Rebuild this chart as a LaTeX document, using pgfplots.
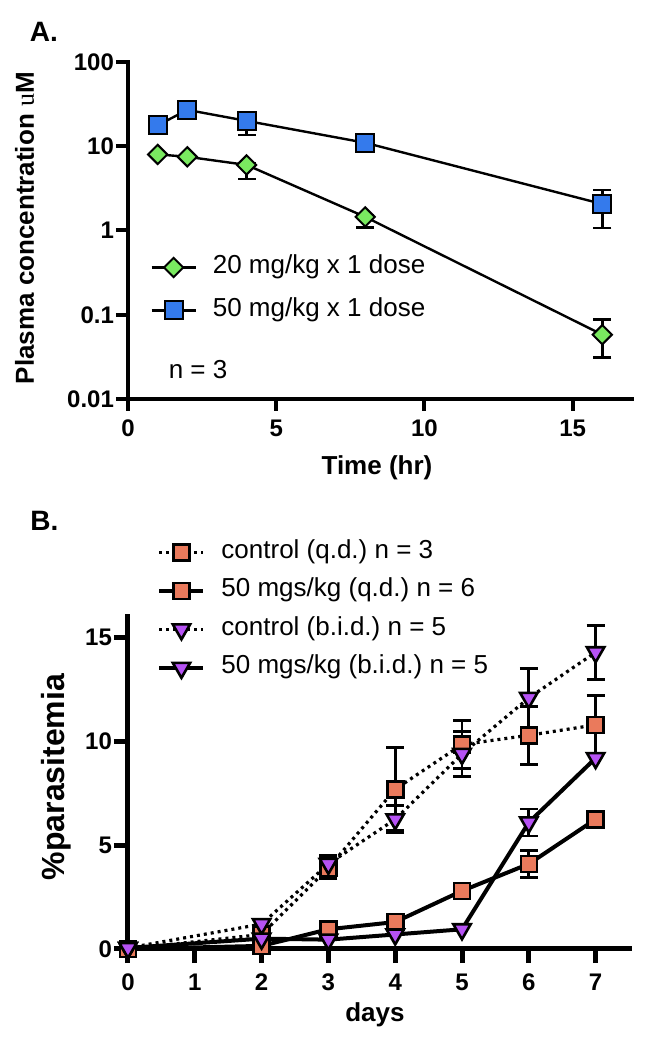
\documentclass[border=0pt]{standalone}
\usepackage{fontspec}
\setmainfont{Liberation Sans}
\newfontfamily\serifu{Liberation Serif}
\usepackage{pgfplots}
\pgfplotsset{compat=1.18}
\usepackage{pgfplotstable}
\frenchspacing

\definecolor{cgreen}{RGB}{122,234,96}
\definecolor{cblue}{RGB}{52,122,236}
\definecolor{corange}{RGB}{234,122,92}
\definecolor{cpurple}{RGB}{182,82,244}

% Panel A
\pgfplotstableread{
x y
1 8.0
2 7.5
4 6.0
8 1.45
16 0.058
}\dataAlow
\pgfplotstableread{
x y ep em
4 6.0 0.3 1.9
8 1.45 0.05 0.37
16 0.058 0.030 0.027
}\errAlow
\pgfplotstableread{
x y
1 17.7
2 27
4 20
8 11
16 2.06
}\dataAhigh
\pgfplotstableread{
x y ep em
4 20 1 6.5
16 2.06 0.94 0.99
}\errAhigh

% Panel B
\pgfplotstableread{
x y
0 0
2 0.7
3 3.9
4 7.7
5 9.85
6 10.3
7 10.8
}\ctrlqd
\pgfplotstableread{
x y e
3 3.9 0.5
4 7.7 2.0
5 9.85 1.15
6 10.3 1.4
7 10.8 1.4
}\errctrlqd
\pgfplotstableread{
x y
0 0
2 0.15
3 0.95
4 1.3
5 2.8
6 4.1
7 6.25
}\drugqd
\pgfplotstableread{
x y e
6 4.1 0.65
}\errdrugqd
\pgfplotstableread{
x y
0 0.05
2 1.2
3 4.1
4 6.25
5 9.4
6 12.1
7 14.3
}\ctrlbid
\pgfplotstableread{
x y e
3 4.1 0.4
4 6.25 0.65
5 9.4 1.1
6 12.1 1.4
7 14.3 1.3
}\errctrlbid
\pgfplotstableread{
x y
0 0.05
2 0.5
3 0.45
4 0.7
5 0.95
6 6.1
7 9.2
}\drugbid
\pgfplotstableread{
x y e
6 6.1 0.65
}\errdrugbid

\pgfplotsset{
  gpstyle/.style={
    scale only axis,
    clip=false,
    axis lines=left,
    axis line style={-, line width=2pt, line cap=rect},
    tick style={line width=2pt, black},
    tick align=outside,
    major tick length=6pt,
    minor tick num=0,
    /pgf/number format/assume math mode=true,
    tick label style={font=\fontsize{12}{12}\selectfont\bfseries},
    yticklabel style={xshift=2.5pt},
    legend cell align=left,
    legend image code/.code={\draw[mark repeat=2,mark phase=2] plot coordinates {(0pt,0pt)(11pt,0pt)(22pt,0pt)};},
  },
}

\begin{document}
\begin{tikzpicture}
\path[use as bounding box] (0,0) rectangle (322pt,525pt);

% ---------------- Panel A ----------------
\begin{axis}[gpstyle,
  at={(64pt,325.5pt)}, anchor=south west,
  width=252pt, height=168.5pt,
  xticklabel style={yshift=-1pt},
  xmin=0, xmax=17, xtick={0,5,10,15},
  ymode=log, ymin=0.01, ymax=100,
  ytick={0.01,0.1,1,10,100}, yticklabels={0.01,0.1,1,10,100},
  yminorticks=false,
  legend style={at={(0.0437,0.427)}, anchor=north west, draw=none, fill=none,
    inner sep=0pt, row sep=9.5pt, font=\fontsize{13}{13}\selectfont,
    nodes={inner sep=0pt, text height=9pt, text depth=3pt},
    /tikz/every odd column/.append style={column sep=8pt}},
]
\addplot[forget plot, draw=none, mark=none,
  error bars/.cd, y dir=both, y explicit,
  error bar style={draw=black, line width=1.2pt},
  error mark options={rotate=90, draw=black, line width=1.2pt, mark size=4.5pt}]
  table[x=x, y=y, y error plus=ep, y error minus=em] {\errAlow};
\addplot[forget plot, draw=none, mark=none,
  error bars/.cd, y dir=both, y explicit,
  error bar style={draw=black, line width=1.2pt},
  error mark options={rotate=90, draw=black, line width=1.2pt, mark size=4.5pt}]
  table[x=x, y=y, y error plus=ep, y error minus=em] {\errAhigh};
\addplot[black, line width=1.2pt, mark=square*, mark size=3.4pt,
  mark options={rotate=45, fill=cgreen, draw=black, line width=1pt}]
  table[x=x, y=y] {\dataAlow};
\addlegendentry{20 mg/kg x 1 dose}
\addplot[black, line width=1.2pt, mark=square*, mark size=4.5pt,
  mark options={fill=cblue, draw=black, line width=1pt}]
  table[x=x, y=y] {\dataAhigh};
\addlegendentry{50 mg/kg x 1 dose}

\node[font=\fontsize{13}{13}\selectfont] at (rel axis cs:0.139,0.086) {n = 3};
\node[font=\fontsize{14}{14}\selectfont\bfseries] at (rel axis cs:-0.167,1.089) {A.};
\node[font=\fontsize{13}{13}\selectfont\bfseries] at (rel axis cs:0.494,-0.205) {Time (hr)};
\node[font=\fontsize{13}{13}\selectfont\bfseries, rotate=90] at (rel axis cs:-0.205,0.507) {Plasma concentration {\serifu\mdseries u}M};
\end{axis}

% ---------------- Panel B ----------------
\begin{axis}[gpstyle,
  at={(64pt,50.5pt)}, anchor=south west,
  width=250.5pt, height=166pt,
  axis line style={-, line width=2.5pt, line cap=rect},
  tick style={line width=2.5pt, black},
  major tick length=7pt,
  xticklabel style={yshift=-2pt},
  xmin=0, xmax=7.5, xtick={0,1,2,3,4,5,6,7},
  ymin=0, ymax=16, ytick={0,5,10,15},
  legend style={at={(0.058,1.232)}, anchor=north west, draw=none, fill=none,
    inner sep=0pt, row sep=7.25pt, font=\fontsize{13}{13}\selectfont,
    nodes={inner sep=0pt, text height=9pt, text depth=3pt},
    /tikz/every odd column/.append style={column sep=8pt}},
]
\pgfplotsset{ebar/.style={forget plot, draw=none, mark=none,
  error bars/.cd, y dir=both, y explicit,
  error bar style={draw=black, solid, line width=1.4pt},
  error mark options={rotate=90, draw=black, solid, line width=1.4pt, mark size=4.5pt}}}
\addplot[ebar] table[x=x, y=y, y error=e] {\errctrlqd};
\addplot[ebar] table[x=x, y=y, y error=e] {\errdrugqd};
\addplot[ebar] table[x=x, y=y, y error=e] {\errctrlbid};
\addplot[ebar] table[x=x, y=y, y error=e] {\errdrugbid};

\addplot[black, line width=1.6pt, dash pattern=on 1.5pt off 2pt, mark=square*, mark size=4pt,
  mark options={solid, fill=corange, draw=black, line width=1.3pt}]
  table[x=x, y=y] {\ctrlqd};
\addlegendentry{control (q.d.) n = 3}
\addplot[black, line width=2pt, mark=square*, mark size=4pt,
  mark options={solid, fill=corange, draw=black, line width=1.3pt}]
  table[x=x, y=y] {\drugqd};
\addlegendentry{50 mgs/kg (q.d.) n = 6}
\addplot[black, line width=1.6pt, dash pattern=on 1.5pt off 2pt, mark=triangle*, mark size=5pt,
  mark options={solid, rotate=180, fill=cpurple, draw=black, line width=1.3pt}]
  table[x=x, y=y] {\ctrlbid};
\addlegendentry{control (b.i.d.) n = 5}
\addplot[black, line width=2pt, mark=triangle*, mark size=5pt,
  mark options={solid, rotate=180, fill=cpurple, draw=black, line width=1.3pt}]
  table[x=x, y=y] {\drugbid};
\addlegendentry{50 mgs/kg (b.i.d.) n = 5}

\node[font=\fontsize{14}{14}\selectfont\bfseries] at (rel axis cs:-0.167,1.289) {B.};
\node[font=\fontsize{13}{13}\selectfont\bfseries] at (rel axis cs:0.493,-0.199) {days};
\node[font=\fontsize{16}{16}\selectfont\bfseries, rotate=90] at (rel axis cs:-0.144,0.518) {\%parasitemia};
\end{axis}
\end{tikzpicture}
\end{document}
